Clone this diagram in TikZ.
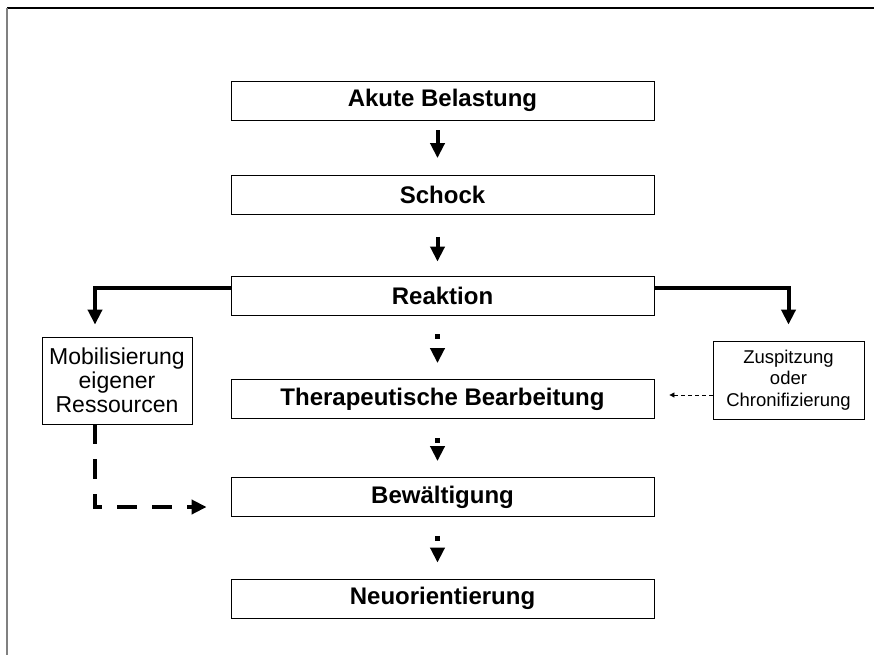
\documentclass[tikz,border=0pt]{standalone}
\usepackage{fontspec}
\setmainfont{Liberation Sans}
\usetikzlibrary{arrows.meta}

\begin{document}
\begin{tikzpicture}[x=1pt,y=-1pt,
        stage/.style={draw,line width=.8pt,minimum width=423pt,minimum height=39pt,inner sep=0pt,font=\bfseries\fontsize{24}{28}\selectfont},
        side/.style={draw,line width=.8pt,align=center,inner sep=0pt},
        tip/.style={-{Triangle[length=15pt,width=14pt]}},
        solidarrow/.style={tip,line width=4pt},
        dotarrow/.style={tip,line width=5pt,dash pattern=on 5pt off 20pt}]
    \useasboundingbox (0,0) rectangle (874,655);
    % frame
    \draw[line width=1.5pt] (7,8) -- (874,8);
    \draw[gray,line width=1.5pt] (7,8) -- (7,655);
    % stages
    \node[stage] (akute) at (442.5,100.5) {Akute Belastung};
    \node[stage] (schock) at (442.5,195) {Schock};
    \node[stage] (reaktion) at (442.5,295.5) {Reaktion};
    \node[stage] (therapie) at (442.5,399) {Therapeutische Bearbeitung};
    \node[stage] (bewaeltigung) at (442.5,497) {Bewältigung};
    \node[stage] (neu) at (442.5,598.5) {Neuorientierung};
    % side boxes
    \node[side,minimum width=150pt,minimum height=87pt,font=\fontsize{23}{24}\selectfont] (mobil) at (117,380.5) {Mobilisierung\\eigener\\Ressourcen};
    \node[side,minimum width=151pt,minimum height=78pt,font=\fontsize{18.5}{21.7}\selectfont] (zusp) at (788.5,380) {Zuspitzung\\oder\\Chronifizierung};
    % arrows
    \draw[solidarrow,shorten <=10pt,shorten >=17pt] ([xshift=-5pt]akute.south) -- ([xshift=-5pt]schock.north);
    \draw[solidarrow,shorten <=22pt,shorten >=14pt] ([xshift=-5pt]schock.south) -- ([xshift=-5pt]reaktion.north);
    \foreach \a/\b in {reaktion/therapie,therapie/bewaeltigung,bewaeltigung/neu}
        \draw[dotarrow,shorten <=19pt,shorten >=16pt] ([xshift=-5pt]\a.south) -- ([xshift=-5pt]\b.north);
    \draw[solidarrow,shorten >=12pt] ([yshift=7.5pt]reaktion.west) -| ([xshift=-22pt]mobil.north);
    \draw[solidarrow,shorten >=16pt] ([yshift=7.5pt]reaktion.east) -| (zusp.north);
    \draw[tip,line width=4.5pt,dash pattern=on 20pt off 15pt,shorten >=24pt] ([xshift=-22pt]mobil.south) |- ([yshift=-10pt]bewaeltigung.west);
    \draw[-{Triangle[length=5pt,width=5pt]},line width=.8pt,dash pattern=on 4pt off 3pt,shorten >=15pt] ([yshift=-15pt]zusp.west) -- ([yshift=4pt]therapie.east);
\end{tikzpicture}
\end{document}
